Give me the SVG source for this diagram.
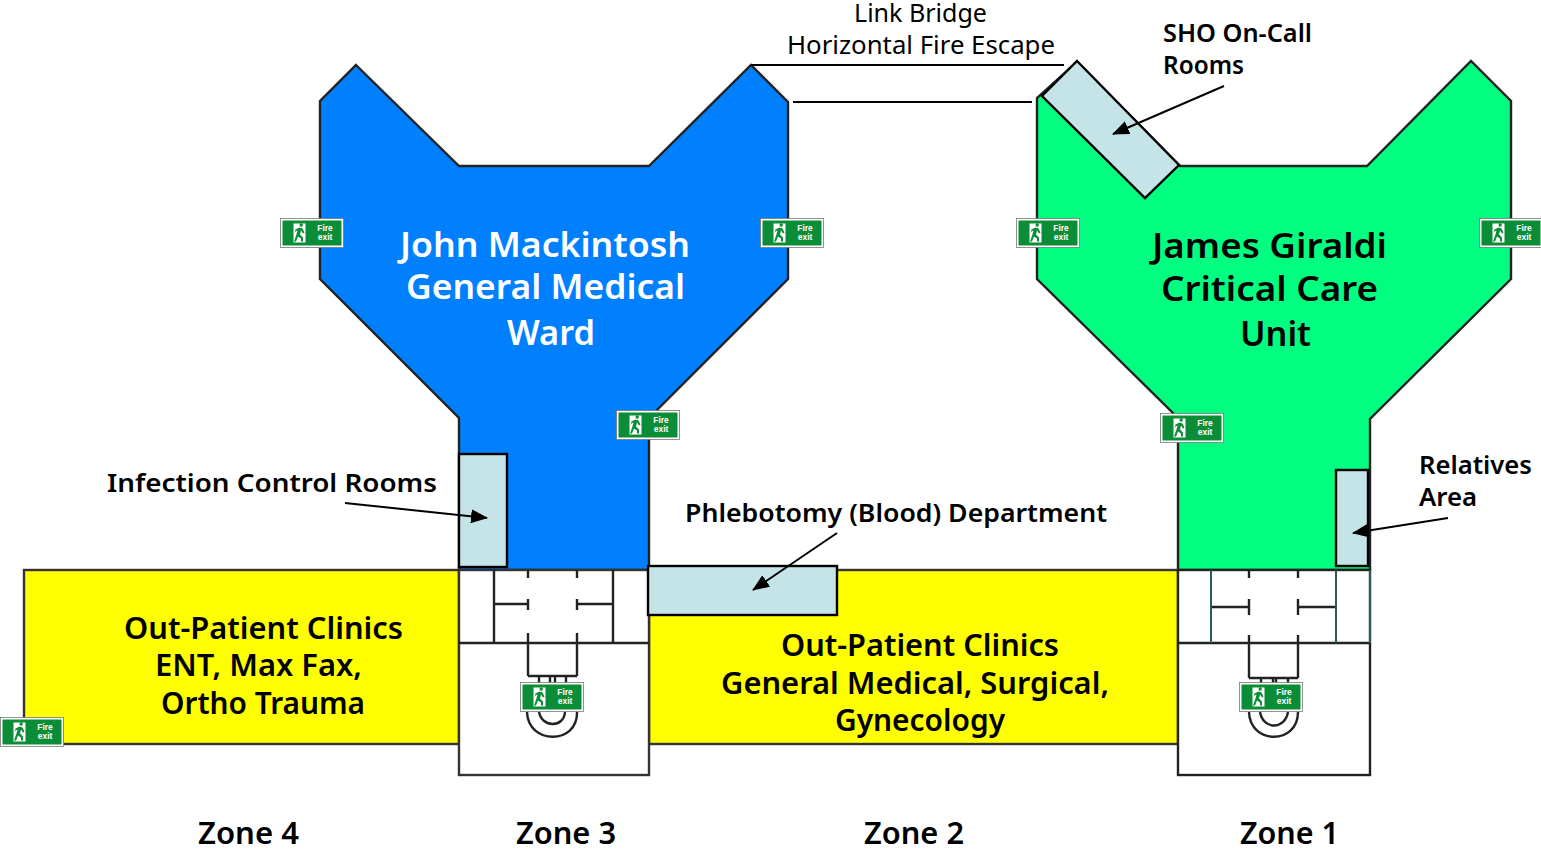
<svg xmlns="http://www.w3.org/2000/svg" xmlns:xlink="http://www.w3.org/1999/xlink" width="1541" height="850" viewBox="0 0 1541 850">
<style>
text{font-family:"Noto Sans","Open Sans","DejaVu Sans",sans-serif;fill:#000}
.big{font-size:35px;font-weight:600}
.t{font-size:31px;font-weight:600}
.s{font-size:26px;font-weight:600}
.r{font-size:26px;font-weight:400}
.w{fill:#fff}
.wall{fill:none;stroke:#222;stroke-width:2.4}
.ln{fill:none;stroke:#000;stroke-width:2}
.room{fill:#c5e4e8;stroke:#000;stroke-width:2.4}
.fx{font-size:8.5px;font-weight:bold;fill:#fff;text-anchor:middle;font-family:"Liberation Sans",sans-serif}
</style>
<defs>
<marker id="a" markerUnits="userSpaceOnUse" markerWidth="18" markerHeight="14" refX="16" refY="7" orient="auto"><path d="M0 0L17 7L0 14z" fill="#000"/></marker>
<g id="fire">
<rect x="0" y="0" width="63" height="29" fill="#fff" stroke="#777" stroke-width=".8"/>
<rect x="2" y="2" width="59" height="25" fill="#0b8c36"/>
<path d="M13 5h12v19h-12z" fill="#fff"/>
<path d="M19 6.500a1.700 1.700 0 1 1 0 .1zM15 11l4-2 3 1 2 4-1.500 1-2-3-1 4 3 3v4h-2v-3l-3-2-2 5h-2l2.500-7 1-4-2 1-1 2z" fill="#0b8c36"/>
<text class="fx" x="44.500" y="12.500">Fire</text><text class="fx" x="44.500" y="21.500">exit</text>
</g>
</defs>
<g id="zone4-clinics"><rect x="24" y="570" width="435" height="174" fill="#ff0" stroke="#333" stroke-width="2.400"/>
<text class="t" x="124" y="639" textLength="279" lengthAdjust="spacingAndGlyphs">Out-Patient Clinics</text>
<text class="t" x="155" y="676" textLength="207" lengthAdjust="spacingAndGlyphs">ENT, Max Fax,</text>
<text class="t" x="161" y="714" textLength="204" lengthAdjust="spacingAndGlyphs">Ortho Trauma</text></g>
<g id="zone2-clinics"><rect x="649" y="570" width="529" height="174" fill="#ff0" stroke="#333" stroke-width="2.400"/>
<text class="t" x="781" y="656" textLength="278" lengthAdjust="spacingAndGlyphs">Out-Patient Clinics</text>
<text class="t" x="721" y="694" textLength="388" lengthAdjust="spacingAndGlyphs">General Medical, Surgical,</text>
<text class="t" x="835" y="731" textLength="170" lengthAdjust="spacingAndGlyphs">Gynecology</text></g>
<g id="john-ward"><path d="M356 65L459 166H649L751 65L788 102V279L649 418V570H459V418L320 279V101Z" fill="#0080ff" stroke="#222" stroke-width="2.400"/>
<text class="big w" x="400" y="257" textLength="290" lengthAdjust="spacingAndGlyphs">John Mackintosh</text>
<text class="big w" x="406" y="299" textLength="279" lengthAdjust="spacingAndGlyphs">General Medical</text>
<text class="big w" x="507" y="345" textLength="88" lengthAdjust="spacingAndGlyphs">Ward</text></g>
<g id="james-unit"><path d="M1077 62L1180 166H1367L1471 61L1511 101V279L1370 419V570H1178V418L1037 279V98Z" fill="#00ff80" stroke="#222" stroke-width="2.400"/>
<text class="big" x="1152" y="258" textLength="235" lengthAdjust="spacingAndGlyphs">James Giraldi</text>
<text class="big" x="1161" y="301" textLength="217" lengthAdjust="spacingAndGlyphs">Critical Care</text>
<text class="big" x="1240" y="346" textLength="71" lengthAdjust="spacingAndGlyphs">Unit</text></g>
<g id="core-zone3"><rect x="459" y="570" width="190" height="205" fill="#fff" stroke="#333" stroke-width="2.400"/>
<path class="wall" d="M459 643H649M494 570V643M613 570V643M494 604H528M577 604H613M528 570V578M577 570V578M528 599V610M577 599V610M528 633V676M577 633V676M528 676H577M539 676V684M550 676V684M555 676V684M566 676V684M527 712C528 745 578 745 577 712M539 712C542 728 564 728 565 712"/></g>
<g id="core-zone1"><rect x="1178" y="570" width="192" height="205" fill="#fff" stroke="#222" stroke-width="2.400"/>
<path class="wall" d="M1178 643H1370M1249 607H1211M1298 607H1336M1249 570V578M1298 570V578M1249 599V615M1298 599V615M1249 635V678M1298 635V678M1249 678H1298M1261 678V684M1273 678V684M1276 678V684M1288 678V684M1249 712C1250 745 1298 745 1298 712M1260 712C1263 730 1285 730 1288 712"/>
<path d="M1211 570V643M1336 570V643M1370 570V643" fill="none" stroke="#2b5a5a" stroke-width="2"/></g>
<g id="rooms">
<rect class="room" x="459" y="454" width="48" height="113"/>
<rect class="room" x="648" y="566" width="189" height="49"/>
<rect class="room" x="1336" y="470" width="32" height="96"/>
<path class="room" d="M1077 61L1179 165L1145 198L1042 96Z"/>
</g>
<g id="connectors">
<path class="ln" d="M751 65H1064M793 102H1032"/>
<path class="ln" marker-end="url(#a)" d="M1224 86L1113 134"/>
<path class="ln" marker-end="url(#a)" d="M345 503L487 518"/>
<path class="ln" marker-end="url(#a)" d="M837 533L753 590"/>
<path class="ln" marker-end="url(#a)" d="M1448 518L1353 533"/>
</g>
<g id="labels">
<text class="r" x="854" y="22" textLength="133" lengthAdjust="spacingAndGlyphs">Link Bridge</text>
<text class="r" x="787" y="54" textLength="268" lengthAdjust="spacingAndGlyphs">Horizontal Fire Escape</text>
<text class="s" x="1163" y="42" textLength="149" lengthAdjust="spacingAndGlyphs">SHO On-Call</text>
<text class="s" x="1163" y="74" textLength="81" lengthAdjust="spacingAndGlyphs">Rooms</text>
<text class="s" x="107" y="492" textLength="330" lengthAdjust="spacingAndGlyphs">Infection Control Rooms</text>
<text class="s" x="685" y="522" textLength="422" lengthAdjust="spacingAndGlyphs">Phlebotomy (Blood) Department</text>
<text class="s" x="1419" y="474" textLength="113" lengthAdjust="spacingAndGlyphs">Relatives</text>
<text class="s" x="1419" y="506" textLength="58" lengthAdjust="spacingAndGlyphs">Area</text>
<text class="t" x="198" y="844" textLength="101" lengthAdjust="spacingAndGlyphs">Zone 4</text>
<text class="t" x="516" y="844" textLength="100" lengthAdjust="spacingAndGlyphs">Zone 3</text>
<text class="t" x="864" y="844" textLength="100" lengthAdjust="spacingAndGlyphs">Zone 2</text>
<text class="t" x="1240" y="844" textLength="99" lengthAdjust="spacingAndGlyphs">Zone 1</text>
</g>
<g id="fire-exits">
<use href="#fire" x="280.500" y="218.500"/>
<use href="#fire" x="760.500" y="218.500"/>
<use href="#fire" x="1016.500" y="218.500"/>
<use href="#fire" x="1479.500" y="218.500"/>
<use href="#fire" x="616.500" y="410.500"/>
<use href="#fire" x="1160.500" y="413.500"/>
<use href="#fire" x="0.500" y="717.500"/>
<use href="#fire" x="520.500" y="682.500"/>
<use href="#fire" x="1239.500" y="682.500"/>
</g>
</svg>
